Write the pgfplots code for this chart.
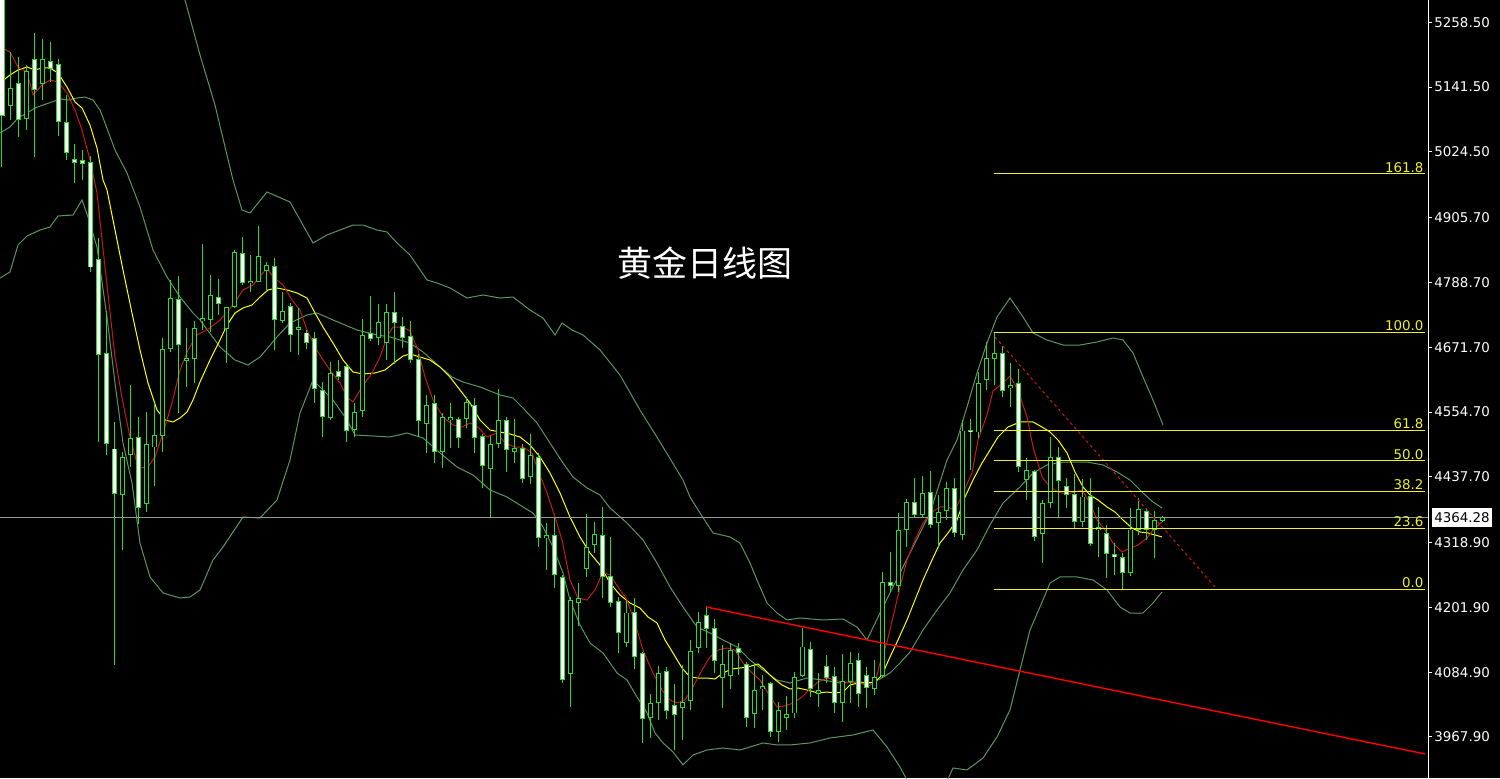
\documentclass[border=0pt]{standalone}
\usepackage{fontspec}
\setmainfont{DejaVu Sans}
\newfontfamily\cjk{Noto Sans CJK SC}
\usepackage{pgfplots}
\usepackage{pgfplotstable}
\pgfplotsset{compat=1.18}

\definecolor{candle}{RGB}{40,220,40}
\definecolor{bband}{RGB}{90,150,100}
\definecolor{mared}{RGB}{200,25,25}
\definecolor{mayel}{RGB}{255,255,0}
\definecolor{fib}{RGB}{240,240,40}
\definecolor{pline}{RGB}{150,150,150}

% daily candles: k = bar index (x = 2 + 8k), open high low close
\pgfplotstableread{
k o h l c
0 5310 5320 4997.2 5091.1
1 5109.2 5204.9 5082.1 5139.9
2 5148.9 5195.9 5051.4 5083.9
3 5085.7 5181.4 5064.0 5170.6
4 5192.2 5239.2 5015.3 5138.1
5 5148.9 5228.4 5118.2 5192.2
6 5188.6 5222.9 5150.7 5176.0
7 5183.2 5192.2 5053.2 5080.3
8 5076.7 5127.2 5009.8 5022.5
9 5011.6 5038.7 4968.3 5006.2
10 5009.8 5027.9 4973.7 5004.4
11 5006.2 5017.1 4807.6 4816.6
12 4831.0 4869.0 4500.5 4657.7
13 4659.5 4737.1 4477.1 4498.7
14 4487.9 4536.7 4097.8 4408.4
15 4406.6 4482.5 4305.5 4473.4
16 4477.1 4603.5 4455.4 4506.0
17 4507.8 4545.7 4352.5 4381.4
18 4388.6 4554.7 4374.1 4496.9
19 4491.5 4571.0 4420.3 4511.4
20 4511.4 4688.4 4482.5 4668.5
21 4670.3 4793.1 4663.1 4760.6
22 4758.8 4800.3 4552.9 4677.5
23 4648.6 4706.4 4599.9 4652.2
24 4652.2 4719.1 4607.1 4706.4
25 4719.1 4858.1 4702.8 4722.7
26 4720.9 4802.1 4699.2 4766.0
27 4762.4 4794.9 4729.9 4749.8
28 4706.4 4744.4 4643.2 4742.6
29 4744.4 4847.3 4742.6 4841.9
30 4840.1 4870.8 4784.1 4789.5
31 4787.7 4838.3 4771.5 4791.3
32 4791.3 4890.7 4789.5 4834.7
33 4809.4 4825.6 4775.1 4820.2
34 4818.4 4832.9 4666.7 4720.9
35 4719.1 4771.5 4715.5 4737.1
36 4744.4 4751.6 4663.1 4693.8
37 4704.6 4742.6 4657.7 4708.2
38 4697.4 4702.8 4668.5 4681.1
39 4686.6 4699.2 4571.0 4596.3
40 4592.7 4608.9 4509.6 4545.7
41 4543.9 4645.0 4540.3 4623.4
42 4627.0 4648.6 4612.5 4618.0
43 4636.0 4639.6 4500.5 4522.2
44 4524.0 4571.0 4509.6 4554.7
45 4558.3 4722.7 4545.7 4692.0
46 4695.6 4764.2 4683.0 4686.6
47 4688.4 4749.8 4675.7 4715.5
48 4681.1 4749.8 4648.6 4735.3
49 4735.3 4771.5 4641.4 4715.5
50 4710.0 4726.3 4670.3 4688.4
51 4690.2 4719.1 4643.2 4650.4
52 4650.4 4659.5 4509.6 4538.5
53 4533.1 4585.4 4480.7 4565.6
54 4569.2 4585.4 4462.6 4482.5
55 4482.5 4552.9 4453.6 4543.9
56 4540.3 4571.0 4489.7 4543.9
57 4540.3 4545.7 4489.7 4507.8
58 4542.1 4581.8 4525.8 4571.0
59 4565.6 4580.0 4480.7 4507.8
60 4509.6 4515.0 4417.5 4457.2
61 4451.8 4511.4 4365.1 4496.9
62 4498.7 4596.3 4489.7 4538.5
63 4538.5 4545.7 4446.4 4486.1
64 4482.5 4542.1 4462.6 4487.9
65 4489.7 4496.9 4426.5 4435.5
66 4439.1 4515.0 4424.7 4475.3
67 4473.4 4480.7 4310.9 4327.2
68 4327.2 4354.3 4269.4 4330.8
69 4330.8 4363.3 4236.9 4260.4
70 4255.0 4260.4 4065.3 4072.5
71 4081.6 4220.6 4022.0 4213.4
72 4209.8 4245.9 4168.2 4217.0
73 4271.2 4370.5 4256.8 4309.1
74 4316.3 4356.1 4300.1 4332.6
75 4330.8 4383.2 4218.8 4256.8
76 4256.8 4329.0 4202.6 4209.8
77 4211.6 4220.6 4119.5 4155.6
78 4139.3 4213.4 4130.3 4191.7
79 4193.5 4218.8 4090.6 4112.3
80 4117.7 4121.3 3957.0 4000.3
81 4002.1 4045.4 3966.0 4027.4
82 4029.2 4096.0 3998.5 4081.6
83 4085.2 4094.2 4000.3 4016.5
84 4023.8 4063.5 3944.3 4007.5
85 4020.2 4097.8 3962.4 4029.2
86 4032.8 4143.0 4016.5 4121.3
87 4128.5 4193.5 4119.5 4173.7
88 4186.3 4204.4 4128.5 4164.6
89 4164.6 4180.9 4083.4 4106.8
90 4076.1 4133.9 4020.2 4099.6
91 4079.7 4137.5 4054.5 4123.1
92 4126.7 4137.5 4079.7 4119.5
93 4099.6 4103.2 3985.8 4002.1
94 4011.1 4101.4 3984.0 4050.9
95 4054.5 4079.7 4016.5 4058.1
96 4063.5 4067.1 3967.8 3976.8
97 3976.8 4031.0 3958.7 4016.5
98 4002.1 4041.8 3980.4 4009.3
99 4011.1 4085.2 4002.1 4076.1
100 4079.7 4164.6 4076.1 4130.3
101 4124.9 4139.3 4040.0 4054.5
102 4047.2 4083.4 4022.0 4050.9
103 4094.2 4115.9 4065.3 4076.1
104 4077.9 4094.2 4011.1 4029.2
105 4029.2 4117.7 3994.9 4067.1
106 4067.1 4121.3 4029.2 4101.4
107 4106.8 4119.5 4022.0 4047.2
108 4079.7 4094.2 4020.2 4056.3
109 4054.5 4106.8 4043.6 4076.1
110 4079.7 4265.8 4074.3 4245.9
111 4245.9 4301.9 4229.6 4240.5
112 4240.5 4372.3 4229.6 4339.8
113 4343.4 4397.6 4310.9 4390.4
114 4390.4 4435.5 4363.3 4368.7
115 4368.7 4439.1 4363.3 4408.4
116 4410.2 4448.2 4345.2 4350.7
117 4354.3 4404.8 4309.1 4374.1
118 4377.7 4428.3 4359.7 4415.7
119 4415.7 4435.5 4329.0 4336.2
120 4332.6 4540.3 4323.6 4520.4
121 4522.2 4542.1 4450.0 4518.6
122 4518.6 4627.0 4507.8 4605.3
123 4614.3 4681.1 4594.5 4652.2
124 4652.2 4698.3 4603.5 4659.5
125 4659.5 4673.9 4581.8 4592.7
126 4598.1 4643.2 4563.8 4601.7
127 4605.3 4632.4 4446.4 4455.4
128 4433.7 4471.7 4395.8 4448.2
129 4446.4 4450.0 4321.8 4329.0
130 4334.4 4395.8 4282.0 4388.6
131 4390.4 4509.6 4381.4 4473.4
132 4473.4 4491.5 4365.1 4431.9
133 4419.3 4435.5 4381.4 4406.6
134 4406.6 4442.8 4345.2 4356.1
135 4356.1 4433.7 4347.0 4401.2
136 4403.0 4435.5 4312.7 4318.1
137 4341.6 4383.2 4292.9 4347.0
138 4334.4 4350.7 4255.0 4298.3
139 4296.5 4318.1 4260.4 4292.9
140 4291.1 4300.1 4234.7 4264.0
141 4264.0 4381.4 4258.5 4341.6
142 4343.4 4399.4 4332.6 4379.5
143 4375.9 4381.4 4323.6 4343.4
144 4343.4 4375.9 4291.1 4357.9
145 4357.9 4366.0 4356.0 4364.3
}\candles

\begin{document}
\begin{tikzpicture}
\path[use as bounding box, fill=black] (0,0) rectangle (750pt,389pt);
\begin{axis}[
  at={(0,0)}, anchor=south west,
  scale only axis, width=714pt, height=389pt,
  xmin=0, xmax=1428, ymin=3893.7, ymax=5298.8,
  clip mode=individual,
  axis x line=none, axis y line=right,
  axis line style={-, white, line width=0.5pt},
  ytick={3967.9,4084.9,4201.9,4318.9,4437.7,4554.7,4671.7,4788.7,4905.7,5024.5,5141.5,5258.5},
  yticklabels={3967.90,4084.90,4201.90,4318.90,4437.70,4554.70,4671.70,4788.70,4905.70,5024.50,5141.50,5258.50},
  tick align=outside, major tick length=2pt,
  ytick style={white, line width=0.5pt},
  yticklabel style={text=white, font=\fontsize{6.7}{8}\selectfont, anchor=west, inner sep=0pt, xshift=1pt},
]

% Bollinger bands
\addplot[bband, line width=0.5pt] coordinates {
(170,5371.0) (185,5298.8) (200,5199.5) (215,5109.2) (233,4973.7) (242,4919.5) (250,4914.1)
(267,4952.1) (290,4934.0) (313,4860.0) (327,4874.4) (353,4892.4) (363,4892.4) (377,4883.4)
(387,4879.8) (397,4860.0) (410,4838.3) (427,4793.1) (437,4787.7) (450,4778.7) (467,4760.6)
(483,4766.0) (500,4760.6) (513,4762.4) (530,4738.9) (543,4724.5) (555,4693.8) (562,4715.5)
(572,4702.8) (583,4693.8) (600,4666.7) (620,4621.5) (640,4558.3) (660,4500.5) (683,4431.9)
(690,4401.2) (700,4372.3) (713,4336.2) (730,4329.0) (740,4318.1) (750,4282.0) (757,4251.3)
(767,4209.8) (777,4191.7) (787,4179.1) (800,4182.7) (823,4179.1) (843,4180.9) (857,4166.4)
(867,4143.0) (880,4191.7) (893,4238.7) (910,4300.1) (930,4372.3) (947,4468.0) (957,4504.2)
(967,4563.8) (977,4625.2) (987,4679.3) (997,4726.3) (1010,4760.6) (1023,4726.3) (1033,4697.4)
(1047,4684.8) (1063,4675.7) (1080,4675.7) (1097,4681.1) (1113,4688.4) (1123,4684.8)
(1133,4661.3) (1143,4617.9) (1153,4576.4) (1163,4531.2)};
\addplot[bband, line width=0.5pt] coordinates {
(0,5058.6) (10,5069.5) (18,5085.7) (27,5094.7) (35,5103.8) (43,5109.2) (52,5114.6) (60,5120.0)
(68,5118.2) (77,5121.8) (85,5123.6) (93,5118.2) (100,5100.1) (105,5076.7) (115,5027.9)
(127,4986.4) (140,4925.0) (153,4847.3) (167,4798.5) (180,4762.4) (193,4733.5) (200,4720.9)
(220,4672.1) (235,4648.6) (248,4639.6) (260,4654.0) (277,4690.2) (290,4715.5) (307,4729.9)
(317,4733.5) (333,4720.9) (357,4702.8) (377,4693.8) (390,4690.2) (410,4679.3) (423,4663.1)
(440,4636.0) (452,4617.9) (463,4608.9) (480,4599.9) (500,4585.4) (513,4580.0) (523,4561.9)
(537,4534.9) (550,4498.7) (563,4462.6) (573,4437.3) (587,4417.5) (600,4404.8) (610,4381.4)
(627,4354.3) (643,4323.6) (657,4282.0) (670,4238.7) (683,4202.6) (697,4166.4) (710,4155.6)
(723,4143.0) (737,4130.3) (750,4106.8) (763,4088.8) (777,4070.7) (790,4065.3) (807,4074.3)
(823,4070.7) (840,4065.3) (857,4067.1) (873,4065.3) (890,4083.4) (900,4101.4) (910,4121.3)
(923,4161.0) (937,4197.1) (950,4227.9) (963,4269.4) (977,4305.5) (990,4350.7) (1003,4390.4)
(1020,4419.3) (1033,4444.6) (1047,4459.0) (1063,4464.4) (1087,4464.4) (1103,4459.0)
(1117,4446.4) (1130,4431.9) (1143,4408.4) (1153,4392.2) (1162,4381.4)};
\addplot[bband, line width=0.5pt] coordinates {
(0,4796.7) (10,4807.6) (18,4856.3) (27,4872.6) (40,4883.4) (50,4888.8) (58,4908.7) (73,4910.5)
(82,4937.6) (88,4906.9) (97,4852.7) (107,4726.3) (115,4607.1) (123,4498.7) (132,4426.5)
(140,4318.1) (150,4256.8) (163,4227.9) (180,4218.8) (190,4220.6) (200,4233.3) (213,4287.4)
(223,4310.9) (243,4365.1) (260,4363.3) (277,4395.8) (290,4468.0) (300,4552.9) (313,4612.5)
(320,4599.9) (333,4576.4) (347,4540.3) (355,4513.2) (390,4509.6) (407,4516.8) (423,4507.8)
(440,4480.7) (457,4455.4) (473,4441.0) (490,4413.9) (507,4401.2) (523,4383.2) (533,4372.3)
(543,4347.0) (553,4310.9) (563,4264.0) (570,4215.2) (580,4170.0) (590,4137.5) (603,4119.5)
(617,4083.4) (627,4070.7) (637,4040.0) (647,4011.1) (655,3975.0) (663,3957.0) (673,3940.7)
(683,3917.3) (693,3935.3) (707,3944.3) (723,3947.9) (740,3944.3) (750,3949.7) (763,3957.0)
(777,3953.4) (790,3953.4) (810,3957.0) (830,3966.0) (853,3971.4) (873,3980.4) (887,3949.7)
(900,3913.6) (907,3890.1) (943,3872.0) (953,3911.8) (967,3908.2) (983,3929.8) (997,3967.8)
(1010,4016.5) (1020,4088.8) (1030,4161.0) (1040,4202.6) (1050,4245.9) (1060,4256.8)
(1077,4256.8) (1093,4251.3) (1107,4233.3) (1120,4202.6) (1130,4191.7) (1143,4191.7)
(1153,4209.8) (1162,4229.6)};

% slow moving average
\addplot[mayel, line width=0.5pt] coordinates {
(0,5148.9) (10,5163.4) (18,5172.4) (27,5177.8) (35,5172.4) (42,5176.0) (50,5176.0) (58,5167.0)
(67,5141.7) (75,5114.6) (82,5103.8) (90,5073.0) (97,5031.5) (103,4973.7) (107,4955.7)
(115,4883.4) (123,4811.2) (132,4733.5) (140,4666.7) (148,4607.1) (157,4558.3) (165,4540.3)
(173,4536.7) (180,4543.9) (187,4554.7) (193,4576.4) (200,4608.9) (210,4648.6) (220,4684.8)
(227,4711.8) (235,4733.5) (243,4742.6) (252,4748.0) (260,4762.4) (268,4775.1) (277,4778.7)
(287,4775.1) (297,4769.7) (307,4760.6) (315,4733.5) (323,4708.2) (333,4679.3) (343,4648.6)
(353,4627.0) (363,4623.4) (375,4625.2) (385,4630.6) (395,4645.0) (403,4655.8) (410,4659.5)
(420,4654.0) (430,4648.6) (440,4636.0) (450,4617.9) (460,4594.5) (470,4571.0) (480,4540.3)
(490,4522.2) (500,4518.6) (510,4515.0) (520,4509.6) (530,4495.1) (540,4473.4) (550,4444.6)
(560,4408.4) (570,4365.1) (580,4329.0) (590,4300.1) (600,4278.4) (610,4245.9) (620,4224.2)
(630,4209.8) (640,4200.7) (648,4184.5) (657,4173.7) (665,4143.0) (673,4119.5) (682,4092.4)
(690,4076.1) (698,4074.3) (707,4074.3) (715,4072.5) (723,4083.4) (732,4090.6) (740,4092.4)
(748,4094.2) (758,4099.6) (765,4088.8) (773,4074.3) (782,4061.7) (790,4054.5) (798,4056.3)
(807,4052.7) (818,4047.2) (827,4049.0) (835,4047.2) (843,4049.0) (850,4061.7) (858,4065.3)
(867,4065.3) (875,4067.1) (882,4079.7) (890,4112.3) (898,4143.0) (907,4179.1) (915,4215.2)
(923,4251.3) (932,4287.4) (940,4318.1) (948,4336.2) (957,4359.7) (965,4401.2) (973,4431.9)
(982,4462.6) (990,4486.1) (998,4509.6) (1008,4527.6) (1020,4536.7) (1033,4536.7) (1042,4527.6)
(1050,4518.6) (1058,4504.2) (1067,4480.7) (1075,4446.4) (1083,4419.3) (1090,4404.8)
(1098,4395.8) (1107,4383.2) (1115,4374.1) (1123,4359.7) (1132,4345.2) (1140,4338.0)
(1148,4336.2) (1155,4332.6) (1162,4329.0)};

% fast moving average
\addplot[mared, line width=0.5pt] coordinates {
(0,5214.0) (10,5204.9) (18,5177.8) (27,5168.8) (33,5127.3) (42,5145.3) (50,5154.3) (58,5150.7)
(67,5130.9) (75,5100.1) (82,5064.0) (90,5009.8) (97,4950.3) (105,4816.6) (115,4654.0)
(123,4571.0) (130,4509.6) (138,4455.4) (147,4453.6) (155,4473.4) (163,4516.8) (172,4571.0)
(180,4630.6) (188,4666.7) (197,4693.8) (210,4706.4) (220,4720.9) (233,4748.0) (243,4775.1)
(253,4784.1) (267,4814.8) (273,4798.5) (283,4784.1) (292,4757.0) (300,4738.9) (307,4702.8)
(315,4672.1) (323,4648.6) (332,4625.2) (340,4607.1) (347,4581.8) (353,4572.8) (362,4599.9)
(372,4625.2) (380,4654.0) (387,4690.2) (393,4708.2) (403,4708.2) (410,4701.0) (418,4666.7)
(425,4617.9) (433,4576.4) (443,4545.7) (453,4531.2) (462,4527.6) (470,4534.9) (478,4527.6)
(487,4509.6) (497,4516.8) (505,4498.7) (515,4491.5) (523,4491.5) (532,4480.7) (538,4450.0)
(547,4408.4) (555,4365.1) (562,4323.6) (570,4251.3) (578,4218.8) (587,4215.2) (595,4233.3)
(603,4265.8) (610,4260.4) (618,4238.7) (627,4215.2) (635,4173.7) (643,4124.9) (653,4083.4)
(662,4052.7) (670,4034.6) (677,4029.2) (685,4034.6) (693,4058.1) (702,4088.8) (710,4112.3)
(718,4124.9) (727,4128.5) (735,4124.9) (743,4101.4) (752,4083.4) (760,4070.7) (768,4047.2)
(777,4022.0) (785,4023.8) (793,4029.2) (802,4040.0) (810,4054.5) (818,4067.1) (827,4074.3)
(835,4070.7) (843,4065.3) (852,4067.1) (860,4065.3) (868,4059.9) (875,4065.3) (880,4101.4)
(887,4139.3) (893,4184.5) (900,4238.7) (907,4287.4) (915,4323.6) (923,4354.3) (932,4374.1)
(940,4383.2) (947,4383.2) (955,4377.7) (963,4408.4) (972,4444.6) (978,4504.2) (987,4549.3)
(993,4592.7) (1002,4605.3) (1010,4619.7) (1018,4594.5) (1027,4545.7) (1033,4491.5)
(1042,4437.3) (1050,4419.3) (1058,4410.2) (1067,4406.6) (1075,4410.2) (1082,4413.9)
(1090,4390.4) (1097,4359.7) (1105,4341.6) (1113,4318.1) (1122,4301.9) (1130,4309.1)
(1138,4314.5) (1147,4327.2) (1153,4341.6) (1162,4356.1)};

% current price line
\addplot[pline, line width=0.5pt] coordinates {(0,4364.28) (1428,4364.28)};

% candle wicks
\addplot[draw=none, forget plot,
  error bars/.cd, y dir=both, y explicit, error mark=none,
  error bar style={draw=candle, line width=0.5pt}]
  table[x expr={2+8*\thisrow{k}}, y expr={(\thisrow{h}+\thisrow{l})/2},
        y error expr={(\thisrow{h}-\thisrow{l})/2}] {\candles};
% body outline
\addplot[draw=none, forget plot,
  error bars/.cd, y dir=both, y explicit, error mark=none,
  error bar style={draw=candle, line width=2.5pt}]
  table[x expr={2+8*\thisrow{k}}, y expr={(\thisrow{o}+\thisrow{c})/2},
        y error expr={abs(\thisrow{o}-\thisrow{c})/2+0.9}] {\candles};
% body inside: black for rising days
\addplot[draw=none, forget plot,
  error bars/.cd, y dir=both, y explicit, error mark=none,
  error bar style={draw=black, line width=1.5pt}]
  table[x expr={2+8*\thisrow{k}}, y expr={(\thisrow{o}+\thisrow{c})/2},
        y error expr={max(abs(\thisrow{o}-\thisrow{c})/2-0.9,0)}] {\candles};
% body inside: white for falling days
\addplot[draw=none, forget plot,
  error bars/.cd, y dir=both, y explicit, error mark=none,
  error bar style={draw=white, line width=1.5pt}]
  table[x expr={2+8*\thisrow{k}}, y expr={(\thisrow{o}+\thisrow{c})/2},
        y error expr={(\thisrow{o}>\thisrow{c})*max(abs(\thisrow{o}-\thisrow{c})/2-0.9,0)}] {\candles};

% trend lines
\addplot[red, line width=0.7pt] coordinates {(706,4202.6) (1425,3937.1)};
\addplot[mared, line width=0.5pt, dash pattern=on 1.5pt off 1.5pt] coordinates {(995,4690.2) (1215,4238.7)};

% fibonacci levels
\addplot[fib, line width=0.5pt] coordinates {(994,4984.8) (1425,4984.8)};
\addplot[fib, line width=0.5pt] coordinates {(994,4698.3) (1425,4698.3)};
\addplot[fib, line width=0.5pt] coordinates {(994,4521.2) (1425,4521.2)};
\addplot[fib, line width=0.5pt] coordinates {(994,4466.5) (1425,4466.5)};
\addplot[fib, line width=0.5pt] coordinates {(994,4411.8) (1425,4411.8)};
\addplot[fib, line width=0.5pt] coordinates {(994,4344.1) (1425,4344.1)};
\addplot[fib, line width=0.5pt] coordinates {(994,4234.7) (1425,4234.7)};

\begin{scope}[every node/.style={anchor=south east, text=fib, inner sep=0.6pt, font=\fontsize{6.7}{8}\selectfont}]
\node at (axis cs:1425,4984.8) {161.8};
\node at (axis cs:1425,4698.3) {100.0};
\node at (axis cs:1425,4521.2) {61.8};
\node at (axis cs:1425,4466.5) {50.0};
\node at (axis cs:1425,4411.8) {38.2};
\node at (axis cs:1425,4344.1) {23.6};
\node at (axis cs:1425,4234.7) {0.0};
\end{scope}

\node[fill=white, text=black, inner sep=0pt, minimum width=30pt, minimum height=9.5pt,
      font=\fontsize{6.7}{8}\selectfont] at (axis cs:1462,4364.28) {4364.28};

\node[text=white, font=\cjk\fontsize{17.5}{17.5}\selectfont] at (axis cs:705,4823) {黄金日线图};
\end{axis}
\end{tikzpicture}
\end{document}
